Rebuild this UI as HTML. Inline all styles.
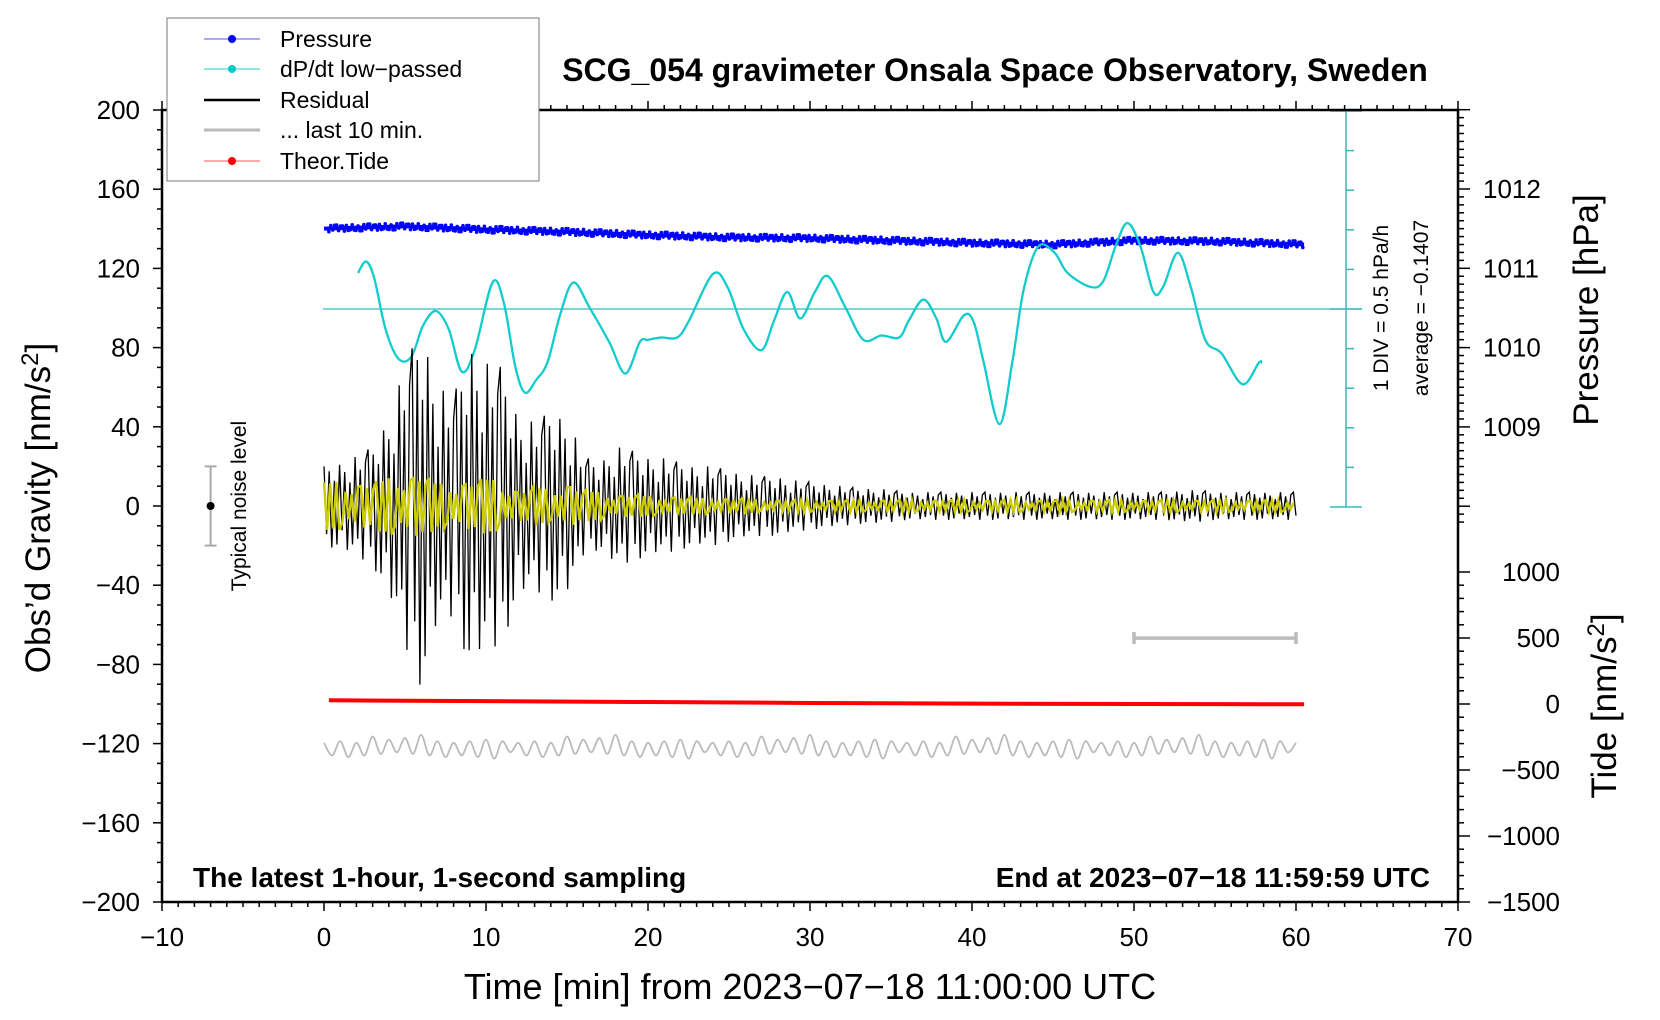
<!DOCTYPE html>
<html><head><meta charset="utf-8"><style>
html,body{margin:0;padding:0;background:#fff;}
svg{display:block;font-family:"Liberation Sans",sans-serif;}
</style></head><body>
<svg id="chart" width="1660" height="1020" viewBox="0 0 1660 1020" xmlns="http://www.w3.org/2000/svg">
<rect width="1660" height="1020" fill="#fff"/>
<g id="marks"></g>
<g id="axes"></g>
<text x="995" y="81" text-anchor="middle" font-size="32" font-weight="bold">SCG_054 gravimeter Onsala Space Observatory, Sweden</text>
<text x="810" y="999" text-anchor="middle" font-size="36">Time [min] from 2023−07−18 11:00:00 UTC</text>
<text transform="translate(50,508) rotate(-90)" text-anchor="middle" font-size="35">Obs’d Gravity [nm/s<tspan dy="-12" font-size="24">2</tspan><tspan dy="12">]</tspan></text>
<text transform="translate(1598,310) rotate(-90)" text-anchor="middle" font-size="35">Pressure [hPa]</text>
<text transform="translate(1616,706) rotate(-90)" text-anchor="middle" font-size="35">Tide [nm/s<tspan dy="-12" font-size="24">2</tspan><tspan dy="12">]</tspan></text>
<text x="193" y="887" font-size="28" font-weight="bold">The latest 1-hour, 1-second sampling</text>
<text x="1430" y="887" text-anchor="end" font-size="28" font-weight="bold">End at 2023−07−18 11:59:59 UTC</text>
<text transform="translate(1388,308) rotate(-90)" text-anchor="middle" font-size="21">1 DIV = 0.5 hPa/h</text>
<text transform="translate(1428,308) rotate(-90)" text-anchor="middle" font-size="21">average = −0.1407</text>
<text transform="translate(246,506) rotate(-90)" text-anchor="middle" font-size="21">Typical noise level</text>
<g>
<rect x="167" y="18" width="372" height="163" fill="#fff" stroke="#777" stroke-width="1"/>
<line x1="204" y1="39" x2="260" y2="39" stroke="#55f" stroke-width="1"/><circle cx="232" cy="39" r="4" fill="#00f"/>
<text x="280" y="47" font-size="23">Pressure</text>
<line x1="204" y1="69" x2="260" y2="69" stroke="#2cc" stroke-width="1"/><circle cx="232" cy="69" r="4" fill="#0cc"/>
<text x="280" y="77" font-size="23">dP/dt low−passed</text>
<line x1="204" y1="100" x2="260" y2="100" stroke="#000" stroke-width="2.5"/>
<text x="280" y="108" font-size="23">Residual</text>
<line x1="204" y1="130" x2="260" y2="130" stroke="#bbb" stroke-width="3"/>
<text x="280" y="138" font-size="23">... last 10 min.</text>
<line x1="204" y1="161" x2="260" y2="161" stroke="#f55" stroke-width="1"/><circle cx="232" cy="161" r="4" fill="#f00"/>
<text x="280" y="169" font-size="23">Theor.Tide</text>
</g>
</svg>
<script>
// ---- data ----
const pressureTimes = [0,5,10,15,20,25,30,35,40,45,50,55,60.5];
const pressureValues = [1011.50,1011.53,1011.49,1011.46,1011.42,1011.39,1011.38,1011.35,1011.32,1011.30,1011.35,1011.34,1011.30];
const dpdtTimes = [2.1,2.6,3.1,3.8,4.6,5.4,6.1,6.9,7.7,8.5,9.3,10.4,11.1,11.8,12.4,13.1,13.8,14.6,15.4,16.4,17.6,18.6,19.5,20.0,20.8,21.8,22.5,24.0,24.9,25.9,27.0,27.8,28.6,29.4,30.3,31.1,32.2,33.3,34.4,35.5,36.1,37.0,37.8,38.4,39.5,40.1,40.7,41.7,42.5,43.2,44.1,45.1,45.9,47.3,48.1,48.9,49.6,50.4,51.2,51.8,52.7,53.5,54.4,55.4,56.7,57.7,57.9];
const dpdtDiv = [0.91,1.20,0.78,-0.51,-1.26,-1.20,-0.43,-0.05,-0.51,-1.58,-1.04,0.67,0.16,-1.44,-2.11,-1.79,-1.34,-0.11,0.67,0.03,-0.83,-1.63,-0.83,-0.78,-0.72,-0.72,-0.32,0.88,0.56,-0.51,-1.04,-0.27,0.43,-0.24,0.43,0.83,0.03,-0.78,-0.67,-0.72,-0.29,0.24,-0.24,-0.83,-0.16,-0.32,-1.31,-2.91,-1.31,0.51,1.58,1.42,0.91,0.56,0.70,1.63,2.17,1.58,0.43,0.56,1.42,0.56,-0.78,-1.12,-1.90,-1.36,-1.36];
const residualEnvelope = [20,22,25,30,45,70,92,60,55,82,72,70,45,42,48,45,25,22,30,28,25,24,22,20,20,18,16,15,15,13,12,11,10,9,9,8,7,7,7,7,7,7,7,7,7,7,7,7,7,7,7,7,7,8,8,7,7,7,7,7,7];
const filteredEnvelope = [12,12,12,12,14,16,17,11,12,13,14,12,8,10,8,12,8,7,6,6,5,5,5,4,4,4,4,3,3,3,3,3,3,3,3,3,3,3,3,3,3,3,3,3,3,3,3,3,3,3,3,3,3,3,3,3,3,3,3,3,3];
const oscPattern = [1,-0.7,0.85,-1,0.6,-0.9,0.95,-0.55,0.75,-0.95,0.5,-0.8,1,-0.65,0.7,-1,0.8];
const lastTenLevel = -122;
const lastTenAmp = [3,5,4,6,3,5,7,4,5,3,6,4,8,5,4,6,3,5,4,6,5,7,4,3];
const tideTimes = [0.3,10,20,30,40,50,60.5];
const tideValues = [28,22,15,8,3,0,-2];
const leftTicks = [-200,-160,-120,-80,-40,0,40,80,120,160,200];
const xTicks = [-10,0,10,20,30,40,50,60,70];
const pressureTicks = [1009,1010,1011,1012];
const tideTicks = [-1500,-1000,-500,0,500,1000];

// ---- scales ----
const X = t => 324 + t*16.2;
const Y = v => 506 - v*1.98;
const YP = p => 189 + (1012-p)*79.3;
const YT = n => 704 - n*0.132;
const YC = d => 309 - d*39.6;
const NS='http://www.w3.org/2000/svg';
const marks=document.getElementById('marks'), axes=document.getElementById('axes');
function mk(tag,attrs,parent){const e=document.createElementNS(NS,tag);for(const k in attrs)e.setAttribute(k,attrs[k]);(parent||marks).appendChild(e);return e;}
function interp(arr,t){const i=Math.min(Math.floor(t),arr.length-2);const f=t-i;return arr[i]*(1-f)+arr[i+1]*f;}
function interpXY(xs,ys,t){for(let i=0;i<xs.length-1;i++){if(t<=xs[i+1]){const f=(t-xs[i])/(xs[i+1]-xs[i]);return ys[i]*(1-f)+ys[i+1]*f;}}return ys[ys.length-1];}
function smoothPath(pts){let d='M'+pts[0][0]+','+pts[0][1];for(let i=0;i<pts.length-1;i++){const p0=pts[Math.max(i-1,0)],p1=pts[i],p2=pts[i+1],p3=pts[Math.min(i+2,pts.length-1)];const c1x=p1[0]+(p2[0]-p0[0])/6,c1y=p1[1]+(p2[1]-p0[1])/6,c2x=p2[0]-(p3[0]-p1[0])/6,c2y=p2[1]-(p3[1]-p1[1])/6;d+=' C'+c1x+','+c1y+' '+c2x+','+c2y+' '+p2[0]+','+p2[1];}return d;}

// cyan avg line and DIV scale
let e;
e=mk('line',{x1:X(0)-1,y1:YC(0),x2:1362,y2:YC(0),stroke:'#3bb',"stroke-width":1.3});


const sc=mk('g',{stroke:'#3bb',"stroke-width":1.5});


mk('line',{x1:1346,y1:YC(5),x2:1346,y2:YC(-5)},sc);
for(let d=-5;d<=5;d++){const big=(d===-5||d===0||d===5);mk('line',{x1:big?1330:1346,y1:YC(d),x2:big?1362:1354,y2:YC(d)},sc);}

// pressure
let pp=pressureTimes.map((t,i)=>X(t)+','+YP(pressureValues[i])).join(' ');
e=mk('polyline',{points:pp,fill:'none',stroke:'#00f',"stroke-width":4,"stroke-linejoin":'round'});


const pd=mk('g',{fill:'#00f'});


let kk=0;
for(let t=0.3;t<=60.5;t+=0.12,kk++){const off=oscPattern[(kk*5)%oscPattern.length]*3.2;mk('circle',{cx:X(t),cy:YP(interpXY(pressureTimes,pressureValues,t))+off,r:1.8},pd);}

// dP/dt
const cpts=dpdtTimes.map((t,i)=>[X(t),YC(dpdtDiv[i])]);
e=mk('path',{d:smoothPath(cpts),fill:'none',stroke:'#1cc',"stroke-width":2.3,"stroke-linejoin":'round'});



// residual
let rp=[],yp=[];let k=0;
for(let t=0;t<=60;t+=0.16,k++){const m=oscPattern[k%oscPattern.length];rp.push(X(t)+','+Y(interp(residualEnvelope,t)*m));}
k=0;
for(let t=0;t<=60;t+=0.19,k++){const m=oscPattern[(k*3)%oscPattern.length];yp.push(X(t)+','+Y(interp(filteredEnvelope,t)*m));}
e=mk('polyline',{points:rp.join(' '),fill:'none',stroke:'#000',"stroke-width":1.3});


e=mk('polyline',{points:yp.join(' '),fill:'none',stroke:'#cc0',"stroke-width":2.4});



// last 10 min gray
let gpts=[];
for(let i=0;i<=120;i++){const t=i*0.5;const a=lastTenAmp[i%lastTenAmp.length];gpts.push([X(t),Y(lastTenLevel+(i%2?-a:a)*0.8)]);}
e=mk('path',{d:smoothPath(gpts),fill:'none',stroke:'#bbb',"stroke-width":1.8});


const gb=mk('g',{stroke:'#bbb',"stroke-width":3.5});


mk('line',{x1:X(50),y1:Y(-66.7),x2:X(60),y2:Y(-66.7)},gb);
mk('line',{x1:X(50),y1:Y(-66.7)-6,x2:X(50),y2:Y(-66.7)+6},gb);
mk('line',{x1:X(60),y1:Y(-66.7)-6,x2:X(60),y2:Y(-66.7)+6},gb);

// tide
let tp=tideTimes.map((t,i)=>X(t)+','+YT(tideValues[i])).join(' ');
e=mk('polyline',{points:tp,fill:'none',stroke:'#f00',"stroke-width":4});



// noise bar
const nb=mk('g',{stroke:'#aaa',"stroke-width":2});


mk('line',{x1:X(-7),y1:Y(20),x2:X(-7),y2:Y(-20)},nb);
mk('line',{x1:X(-7)-6,y1:Y(20),x2:X(-7)+6,y2:Y(20)},nb);
mk('line',{x1:X(-7)-6,y1:Y(-20),x2:X(-7)+6,y2:Y(-20)},nb);
mk('circle',{cx:X(-7),cy:Y(0),r:4,fill:'#000',stroke:'none'},nb);

// axes frame
e=mk('rect',{x:162,y:110,width:1296,height:792,fill:'none',stroke:'#000',"stroke-width":2.5},axes);


const tk=mk('g',{stroke:'#000',"stroke-width":1.5},axes);


for(let v=-200;v<=200;v+=10){const maj=v%40===0;mk('line',{x1:162-(maj?9:5),y1:Y(v),x2:162,y2:Y(v)},tk);}
for(let t=-10;t<=70;t+=1){const maj=t%10===0;const L=maj?9:5;mk('line',{x1:X(t),y1:902,x2:X(t),y2:902+L},tk);mk('line',{x1:X(t),y1:110,x2:X(t),y2:110-L},tk);}
for(let i=0;i<=52;i++){const p=1013-i*0.1;const y=YP(p);if(y>525)break;const maj=Math.abs(p-Math.round(p))<1e-6;mk('line',{x1:1458,y1:y,x2:1458+(maj?12:6),y2:y},tk);}
for(let n=-1500;n<=1000;n+=100){const maj=n%500===0;mk('line',{x1:1458,y1:YT(n),x2:1458+(maj?12:6),y2:YT(n)},tk);}
// labels
leftTicks.forEach(v=>{const t=mk('text',{x:140,y:Y(v)+9,"text-anchor":'end',"font-size":26},axes);t.textContent=(v<0?'−':'')+Math.abs(v);});
xTicks.forEach(v=>{const t=mk('text',{x:X(v),y:946,"text-anchor":'middle',"font-size":26},axes);t.textContent=(v<0?'−':'')+Math.abs(v);});
pressureTicks.forEach(v=>{const t=mk('text',{x:1483,y:YP(v)+9,"font-size":26},axes);t.textContent=v;});
tideTicks.forEach(v=>{const t=mk('text',{x:1560,y:YT(v)+9,"text-anchor":'end',"font-size":26},axes);t.textContent=(v<0?'−':'')+Math.abs(v);});
</script>
</body></html>
